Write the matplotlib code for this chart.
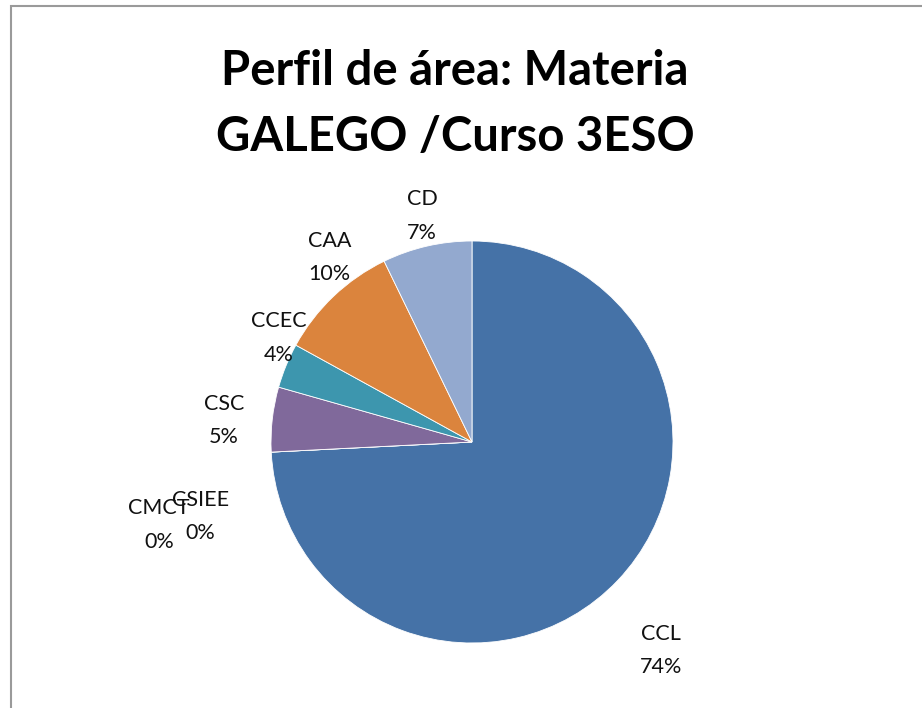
import numpy as np
import matplotlib
matplotlib.use("Agg")
import matplotlib.pyplot as plt
from matplotlib.patches import Rectangle

# data (percent of total)
labels = ['CCL', 'CMCT', 'CSIEE', 'CSC', 'CCEC', 'CAA', 'CD']
values = [74.2, 0.0, 0.0, 5.2, 3.6, 9.8, 7.2]
colors = ['#4572A7', '#AA4643', '#89A54E', '#80699B', '#3D96AE', '#DB843D', '#93A9CF']
title = 'Perfil de área: Materia\nGALEGO /Curso 3ESO'

# label placement tweaks (angle offset in degrees, distance in radii), Excel "best fit" style
label_pos = {
    'CCL': (-4.3, 1.40),
    'CMCT': (12.0, 1.61),
    'CSIEE': (12.5, 1.40),
    'CSC': (1.5, 1.24),
    'CCEC': (-6.0, 1.09),
    'CAA': (-5.9, 1.16),
    'CD': (-0.5, 1.15),
}

plt.rcParams['font.family'] = ['Lato', 'DejaVu Sans']

W, H = 922, 708
fig = plt.figure(figsize=(W / 100, H / 100), dpi=100)

# pie centre and radius in pixels
cx, cy, R = 472, 442, 201
ax = fig.add_axes([(cx - R) / W, (H - cy - R) / H, 2 * R / W, 2 * R / H])

wedges, _ = ax.pie(values, colors=colors, startangle=90, counterclock=False,
                   wedgeprops=dict(edgecolor='white', linewidth=0.6))
ax.set_xlim(-1, 1)
ax.set_ylim(-1, 1)
ax.axis('off')

total = sum(values)
for w, lab, v in zip(wedges, labels, values):
    mid = (w.theta1 + w.theta2) / 2
    off, dist = label_pos[lab]
    ang = np.deg2rad(mid + off)
    ax.text(dist * np.cos(ang), dist * np.sin(ang), f"{lab}\n{v / total * 100:.0f}%",
            ha='center', va='center', fontsize=15.5, linespacing=1.85,
            color='#111111', clip_on=False)

fig.text(455 / W, 1 - 104 / H, title, ha='center', va='center',
         fontsize=34, fontweight='bold', linespacing=1.6, color='black')

# chart area border (runs off the right and bottom of the image)
fig.add_artist(Rectangle((11 / W, -0.1), 1.0, 1 - 6 / H + 0.1,
                         transform=fig.transFigure, fill=False,
                         edgecolor='#9a9a9a', linewidth=1.5))

fig.savefig('out.png', dpi=100, facecolor='white')
